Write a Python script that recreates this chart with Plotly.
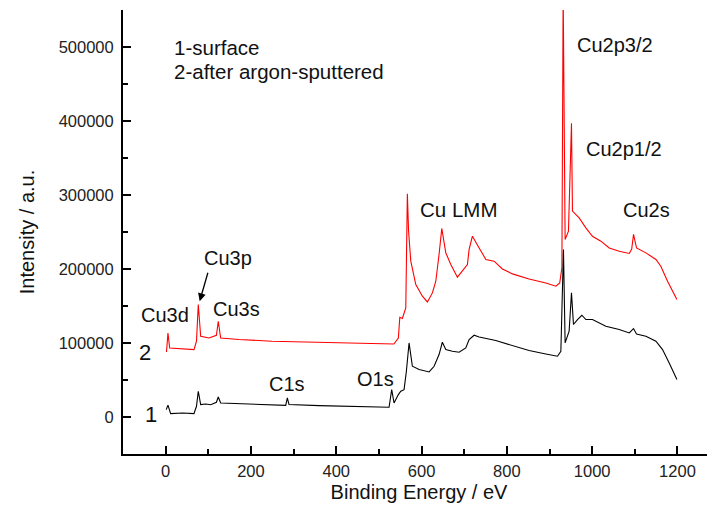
import plotly.graph_objects as go

# ---- data (binding energy in eV, intensity in a.u.) ----
# curve 2: after argon sputtering (red)
energy_2 = [2, 5.4, 9.4, 31, 66.4, 72.3, 76.5, 82.1, 101.6, 119, 123.4, 129, 172, 249,
            406.5, 500, 535, 545.6, 549, 555, 563, 566.7, 569.6, 574.7, 586.5, 602, 613.7,
            625.4, 633.4, 641, 647.4, 656.8, 668.6, 684, 695.8, 707.5, 711.5, 719.2, 735,
            750.7, 770, 789.6, 813, 852, 891.4, 915, 924, 929, 932, 936.6, 944.4, 951.5,
            953.8, 961.8, 969.5, 985.2, 1000.7, 1020.4, 1040, 1063.4, 1087, 1092.7, 1097,
            1104, 1126, 1149.5, 1161, 1176.7, 1188.4, 1198.7]
intensity_2 = [87900, 113600, 93300, 92200, 91100, 102400, 152000, 109100, 106800, 110500,
               129400, 106800, 104700, 102400, 100100, 99300, 98700, 106800, 134800, 133100,
               147400, 301600, 251100, 210600, 179000, 163200, 155500, 167700, 183500, 219600,
               254800, 221800, 206100, 188900, 197000, 206100, 226400, 244300, 228500, 212900,
               210600, 200100, 193400, 186600, 181200, 176700, 181200, 201500, 575000, 239900,
               251100, 396800, 278200, 273700, 269100, 255600, 244300, 237600, 228500, 224100,
               221000, 227000, 246700, 228500, 221800, 212900, 203800, 183500, 170000, 158800]

# curve 1: surface (black)
energy_1 = [1.4, 5.4, 11.7, 40, 66.4, 72.3, 76.5, 82.1, 93.8, 105.6, 119, 123.4, 129, 203,
            281.5, 285.3, 289.2, 359.6, 437.7, 523.8, 530, 535.5, 545.6, 551.3, 559, 564.4,
            570.7, 578.5, 594.2, 617.7, 629.4, 641, 648.8, 656.8, 672.3, 688, 703.7, 711.5,
            723.2, 735, 774, 813, 852, 891.4, 918.6, 926.6, 930.4, 932.7, 936.6, 946, 951.5,
            956.2, 965.6, 975.9, 985.2, 1000.7, 1032, 1063.4, 1087, 1097, 1104, 1126, 1149.5,
            1165, 1180.6, 1198.7]
intensity_1 = [10000, 16000, 4600, 5500, 4600, 14500, 34800, 16800, 17600, 16500, 19900,
               27000, 18900, 17600, 15800, 25700, 16800, 15400, 14500, 13100, 37000, 18900,
               30300, 34800, 37000, 61800, 100100, 68600, 64100, 60900, 68600, 84400, 101000,
               91100, 88900, 87500, 93300, 104700, 110500, 108200, 103300, 96600, 89800, 85200,
               82100, 88900, 156500, 226400, 100100, 115900, 167700, 125000, 131700, 137500,
               131700, 131700, 122600, 118200, 113600, 119500, 112200, 109100, 102400, 91100,
               73000, 50600]

x_range = [-100, 1288]
y_range = [-50000, 550000]
x_ticks = [0, 200, 400, 600, 800, 1000, 1200]
y_ticks = [0, 100000, 200000, 300000, 400000, 500000]

FONT = "Arial, Liberation Sans, sans-serif"

fig = go.Figure()
fig.add_trace(go.Scatter(x=energy_2, y=intensity_2, mode="lines",
                         line=dict(color="#ff0000", width=1.1), showlegend=False))
fig.add_trace(go.Scatter(x=energy_1, y=intensity_1, mode="lines",
                         line=dict(color="#000000", width=1.1), showlegend=False))

# peak labels: (text, x, y, size, xanchor)
labels = [
    ("Cu3d", -2, 137500, 20, "center"),
    ("Cu3p", 146, 215300, 20, "center"),
    ("Cu3s", 166, 145700, 20, "center"),
    ("C1s", 284.5, 44200, 20, "center"),
    ("O1s", 491, 51000, 20, "center"),
    ("Cu LMM", 685.7, 280000, 20.5, "center"),
    ("Cu2p3/2", 1052.8, 502700, 20, "center"),
    ("Cu2p1/2", 1075, 362000, 20, "center"),
    ("Cu2s", 1126.7, 279500, 20, "center"),
    ("2", -48.6, 86600, 22, "center"),
    ("1", -33.3, 3650, 22, "center"),
    ("1-surface", 14, 499000, 20.5, "left"),
    ("2-after argon-sputtered", 14, 467500, 20.5, "left"),
]
for t, x, y, s, xa in labels:
    fig.add_annotation(x=x, y=y, xref="x", yref="y", text=t, showarrow=False,
                       xanchor=xa, yanchor="middle",
                       font=dict(family=FONT, size=s, color="#111111"))

# arrow pointing at the Cu3p peak
fig.add_annotation(x=79.8, y=156500, ax=100, ay=197000, xref="x", yref="y",
                   axref="x", ayref="y", text="", showarrow=True,
                   arrowhead=2, arrowsize=1.2, arrowwidth=1.3, arrowcolor="#000000",
                   standoff=0, startstandoff=0)

axis_common = dict(
    showgrid=False, zeroline=False, showline=True, linecolor="#000000", linewidth=2,
    ticks="inside", ticklen=8, tickwidth=2, tickcolor="#000000",
    tickfont=dict(family=FONT, size=16.5, color="#222222"),
    mirror=False, automargin=False, tickformat="d",
)

fig.update_xaxes(range=x_range, tickvals=x_ticks, ticklabelstandoff=1,
                 minor=dict(ticks="inside", ticklen=5, tickwidth=1.5, tickcolor="#000000",
                            tickvals=[100, 300, 500, 700, 900, 1100]),
                 title=dict(text="Binding Energy / eV", font=dict(family=FONT, size=20, color="#111111"),
                            standoff=6),
                 **axis_common)
fig.update_yaxes(range=y_range, tickvals=y_ticks, ticklabelstandoff=4,
                 minor=dict(ticks="inside", ticklen=5, tickwidth=1.5, tickcolor="#000000",
                            tickvals=[50000, 150000, 250000, 350000, 450000]),
                 title=dict(text="Intensity / a.u.", font=dict(family=FONT, size=20, color="#111111"),
                            standoff=19),
                 **axis_common)

# the page body adds an 8px offset, so the figure is sized to fit the window after it
fig.update_layout(width=707, height=514, margin=dict(l=115, r=0, t=2, b=68),
                  plot_bgcolor="white", paper_bgcolor="white")

fig.write_html("out.html")
